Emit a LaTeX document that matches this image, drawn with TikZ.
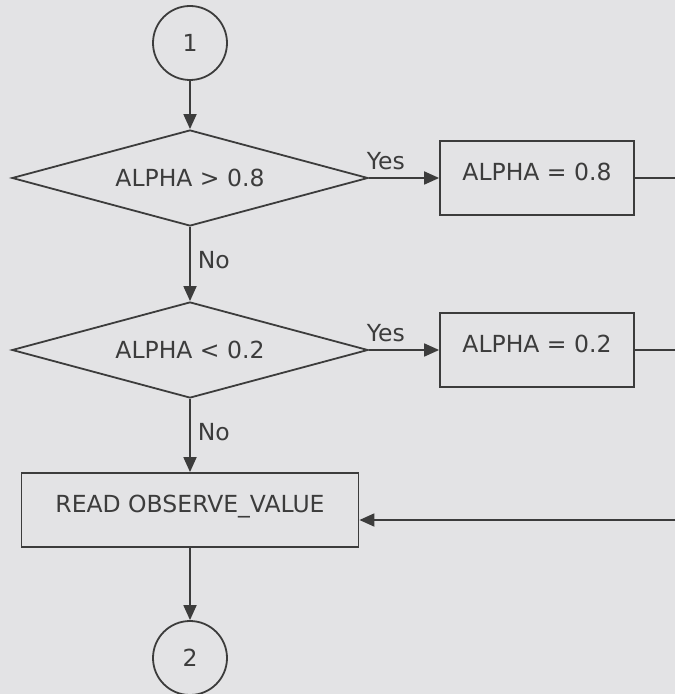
\documentclass[tikz,border=0pt]{standalone}
\usepackage{fontspec}
\setmainfont{DejaVu Sans}
\usetikzlibrary{arrows.meta, shapes.geometric}
\definecolor{mInk}{HTML}{3C3C3C}
\definecolor{mPaper}{HTML}{E3E3E5}

\begin{document}
\begin{tikzpicture}[x=0.5pt, y=-0.5pt, line width=0.9pt, color=mInk,
    every node/.style={font=\fontsize{11.75}{14}\selectfont},
    conn/.style={draw, circle, minimum size=37pt, inner sep=0pt},
    decision/.style={draw, diamond, aspect=3.7, minimum width=178pt, minimum height=48pt, inner sep=0pt},
    procbox/.style={draw, rectangle, minimum height=37pt, inner sep=0pt, text height=8.5pt, text depth=6pt},
    flow/.style={-{Triangle[length=7.5pt, width=6.5pt]}},
    lbl/.style={inner sep=3.5pt}]
    \fill[mPaper] (0,0) rectangle (675,694);
    \useasboundingbox (0,0) rectangle (675,694);
    \node[conn] (c1) at (190,43) {1};
    \node[decision] (d1) at (190,178) {ALPHA > 0.8};
    \node[procbox, minimum width=97pt] (b1) at (537,178) {ALPHA = 0.8};
    \node[decision] (d2) at (190,350) {ALPHA < 0.2};
    \node[procbox, minimum width=97pt] (b2) at (537,350) {ALPHA = 0.2};
    \node[procbox, minimum width=168.5pt] (b3) at (190,510) {READ OBSERVE\_VALUE};
    \node[conn] (c2) at (190,658) {2};
    \coordinate (r1) at (675,178);
    \coordinate (r2) at (675,350);
    \coordinate (r3) at (675,520);
    \draw[flow] (c1) -- (d1);
    \draw[flow] (d1) -- node[lbl, above, pos=0.24] {Yes} (b1);
    \draw (b1) -- (r1);
    \draw[flow] (d1) -- node[lbl, right, pos=0.45] {No} (d2);
    \draw[flow] (d2) -- node[lbl, above, pos=0.24] {Yes} (b2);
    \draw (b2) -- (r2);
    \draw[flow] (d2) -- node[lbl, right, pos=0.46] {No} (b3);
    \draw[flow] (r3) -- (r3 -| b3.east);
    \draw[flow] (b3) -- (c2);
  \end{tikzpicture}
\end{document}
